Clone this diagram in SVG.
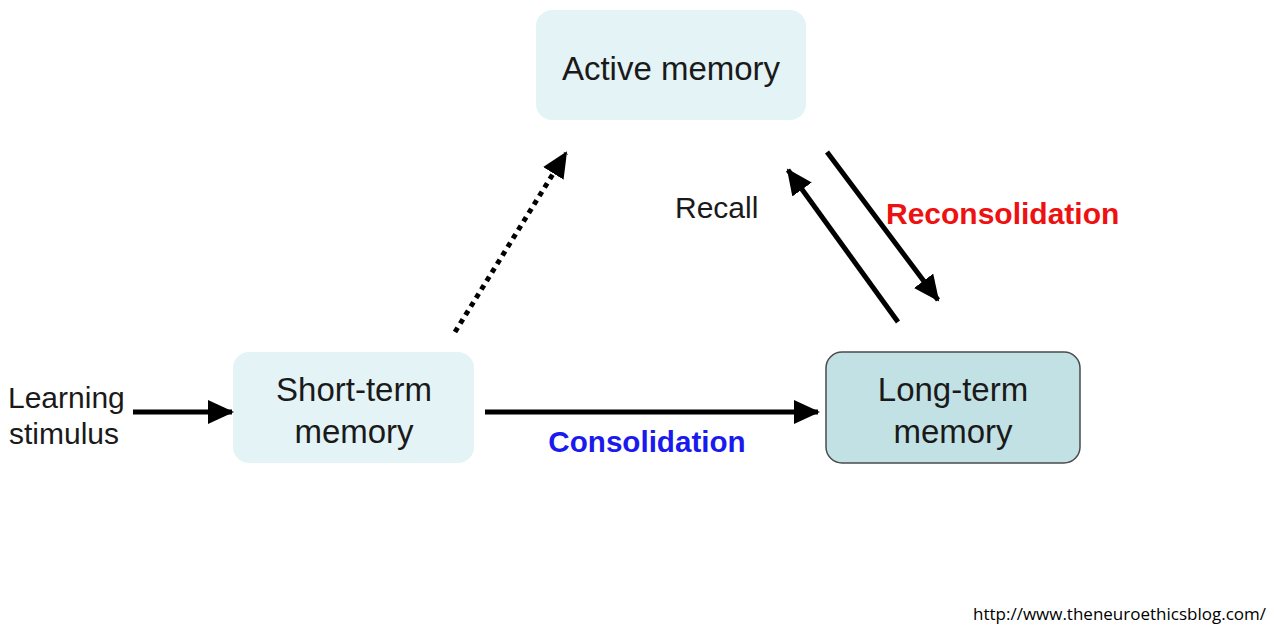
<svg xmlns="http://www.w3.org/2000/svg" width="1274" height="636" viewBox="0 0 1274 636">
<style>
.box{fill:#e4f3f5;stroke:none}
.lt{fill:#c2e1e4;stroke:#4a4a4a;stroke-width:1.5}
.t{font-family:"Liberation Sans",Arial,sans-serif;font-size:33px;fill:#1a1a1a;text-anchor:middle}
.lbl{font-family:"Liberation Sans",Arial,sans-serif;font-size:30px;fill:#1a1a1a}
.c{stroke:#000;stroke-width:5;fill:none;marker-end:url(#ah)}
</style>
<defs>
<marker id="ah" markerUnits="userSpaceOnUse" markerWidth="28" markerHeight="26" refX="24" refY="12" orient="auto">
<path d="M0,0 L26,12 L0,24 Z" fill="#000"/>
</marker>
</defs>
<rect width="1274" height="636" fill="#fff"/>
<g id="active">
<rect class="box" x="536" y="10" width="270" height="110" rx="16"/>
<text class="t" x="671" y="80">Active memory</text>
</g>
<g id="short">
<rect class="box" x="233" y="352" width="241" height="111" rx="16"/>
<text class="t" x="354" y="401">Short-term</text>
<text class="t" x="354" y="443">memory</text>
</g>
<g id="long">
<rect class="lt" x="826" y="352" width="254" height="111" rx="16"/>
<text class="t" x="953" y="401">Long-term</text>
<text class="t" x="953" y="443">memory</text>
</g>
<g id="stimulus">
<text class="lbl" x="8" y="408">Learning</text>
<text class="lbl" x="9" y="444">stimulus</text>
</g>
<g id="connectors">
<line class="c" x1="133" y1="412" x2="232" y2="412"/>
<line class="c" x1="485" y1="412" x2="818" y2="412"/>
<line class="c" x1="455" y1="332" x2="566" y2="153" stroke-dasharray="5,5" stroke-width="6"/>
<line class="c" x1="898" y1="322" x2="788" y2="170"/>
<line class="c" x1="827" y1="152" x2="938" y2="300"/>
</g>
<text x="647" y="452" font-family="Liberation Sans,Arial,sans-serif" font-size="29.6" font-weight="bold" fill="#1a1aee" text-anchor="middle">Consolidation</text>
<text class="lbl" x="675" y="218">Recall</text>
<text x="886" y="224" font-family="Liberation Sans,Arial,sans-serif" font-size="30" font-weight="bold" fill="#ee1111">Reconsolidation</text>
<text x="973" y="620" font-family="Open Sans,Noto Sans,sans-serif" font-size="17" fill="#000">http://www.theneuroethicsblog.com/</text>
</svg>
